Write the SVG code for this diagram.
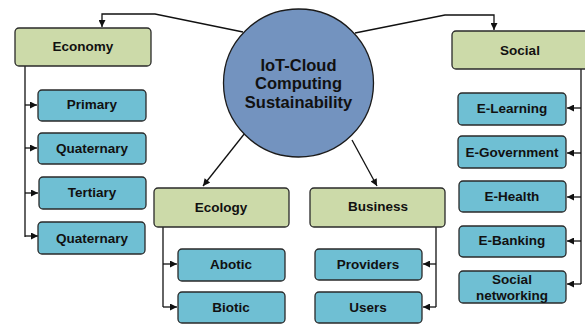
<svg xmlns="http://www.w3.org/2000/svg" width="585" height="324" viewBox="0 0 585 324">
<defs>
<style>
.cat{fill:#CCDAA9;stroke:#2a2a2a;stroke-width:1.3}
.sub{fill:#6FBFD3;stroke:#2a2a2a;stroke-width:1.3}
.hub{fill:#7393BF;stroke:#1a1a1a;stroke-width:1.3}
.t{font-family:"Liberation Sans",Arial,sans-serif;font-weight:bold;font-size:13.5px;fill:#111;text-anchor:middle;dominant-baseline:central}
.h{font-family:"Liberation Sans",Arial,sans-serif;font-weight:bold;font-size:16.5px;fill:#111;text-anchor:middle;dominant-baseline:central}
.c{fill:none;stroke:#111;stroke-width:1.3}
</style>
<marker id="ar" viewBox="0 0 10 10" refX="10" refY="5" markerWidth="9" markerHeight="7" markerUnits="userSpaceOnUse" orient="auto">
<path d="M0,0 L10,5 L0,10 z" fill="#111"/>
</marker>
</defs>
<rect width="585" height="324" fill="#fff"/>
<g id="connectors">
<polyline class="c" points="243,32 155,14 102,14 102,27" marker-end="url(#ar)"/>
<polyline class="c" points="355,33 445,15 494,15 494,30" marker-end="url(#ar)"/>
<line class="c" x1="245" y1="133" x2="203" y2="186" marker-end="url(#ar)"/>
<line class="c" x1="352" y1="140" x2="377" y2="186" marker-end="url(#ar)"/>
<path class="c" d="M25,66 V237"/>
<line class="c" x1="25" y1="105" x2="37" y2="105" marker-end="url(#ar)"/>
<line class="c" x1="25" y1="148" x2="37" y2="148" marker-end="url(#ar)"/>
<line class="c" x1="25" y1="193" x2="38" y2="193" marker-end="url(#ar)"/>
<polyline class="c" points="25,236 38,236" marker-end="url(#ar)"/>
<path class="c" d="M581,69 V284"/>
<line class="c" x1="581" y1="108" x2="567" y2="108" marker-end="url(#ar)"/>
<line class="c" x1="581" y1="153" x2="567" y2="153" marker-end="url(#ar)"/>
<line class="c" x1="581" y1="197" x2="567" y2="197" marker-end="url(#ar)"/>
<line class="c" x1="581" y1="241" x2="567" y2="241" marker-end="url(#ar)"/>
<line class="c" x1="581" y1="284" x2="567" y2="284" marker-end="url(#ar)"/>
<path class="c" d="M163,227 V307"/>
<line class="c" x1="163" y1="264" x2="177" y2="264" marker-end="url(#ar)"/>
<line class="c" x1="163" y1="307" x2="177" y2="307" marker-end="url(#ar)"/>
<path class="c" d="M436,227 V307"/>
<line class="c" x1="436" y1="264" x2="423" y2="264" marker-end="url(#ar)"/>
<line class="c" x1="436" y1="307" x2="423" y2="307" marker-end="url(#ar)"/>
</g>
<g id="hub"><ellipse class="hub" cx="298.5" cy="83" rx="75" ry="74"/>
<text class="h" x="298.5" y="65">IoT-Cloud</text>
<text class="h" x="298.5" y="83">Computing</text>
<text class="h" x="298.5" y="102">Sustainability</text></g>
<g id="economy"><rect class="cat" x="15" y="28" width="136" height="38" rx="4"/><text class="t" x="83" y="46">Economy</text></g>
<g id="primary"><rect class="sub" x="38" y="90" width="108" height="31" rx="4"/><text class="t" x="92" y="104">Primary</text></g>
<g id="quaternary1"><rect class="sub" x="38" y="133" width="108" height="31" rx="4"/><text class="t" x="92" y="148">Quaternary</text></g>
<g id="tertiary"><rect class="sub" x="39" y="177" width="107" height="32" rx="4"/><text class="t" x="92" y="192">Tertiary</text></g>
<g id="quaternary2"><rect class="sub" x="38" y="222" width="107" height="32" rx="4"/><text class="t" x="92" y="238">Quaternary</text></g>
<g id="social"><rect class="cat" x="452" y="31" width="140" height="38" rx="4"/><text class="t" x="520" y="50">Social</text></g>
<g id="elearning"><rect class="sub" x="458" y="93" width="108" height="32" rx="4"/><text class="t" x="512" y="108">E-Learning</text></g>
<g id="egovernment"><rect class="sub" x="458" y="136" width="108" height="32" rx="4"/><text class="t" x="512" y="152">E-Government</text></g>
<g id="ehealth"><rect class="sub" x="459" y="181" width="107" height="31" rx="4"/><text class="t" x="512" y="196">E-Health</text></g>
<g id="ebanking"><rect class="sub" x="459" y="226" width="107" height="31" rx="4"/><text class="t" x="512" y="240">E-Banking</text></g>
<g id="socialnet"><rect class="sub" x="459" y="271" width="107" height="32" rx="4"/><text class="t" x="512" y="279">Social</text><text class="t" x="512" y="295">networking</text></g>
<g id="ecology"><rect class="cat" x="154" y="188" width="135" height="39" rx="4"/><text class="t" x="221" y="207">Ecology</text></g>
<g id="abotic"><rect class="sub" x="178" y="249" width="107" height="32" rx="4"/><text class="t" x="231" y="264">Abotic</text></g>
<g id="biotic"><rect class="sub" x="178" y="292" width="107" height="31" rx="4"/><text class="t" x="231" y="307">Biotic</text></g>
<g id="business"><rect class="cat" x="310" y="188" width="135" height="39" rx="4"/><text class="t" x="378" y="206">Business</text></g>
<g id="providers"><rect class="sub" x="315" y="249" width="107" height="31" rx="4"/><text class="t" x="368" y="264">Providers</text></g>
<g id="users"><rect class="sub" x="315" y="292" width="107" height="31" rx="4"/><text class="t" x="368" y="307">Users</text></g>
</svg>
